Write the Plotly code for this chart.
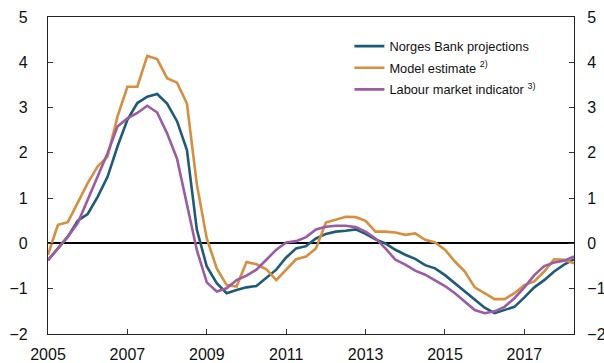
import plotly.graph_objects as go

# Quarterly observations, 2005 Q1 onwards
start_year = 2005
n_quarters = 54
quarters = [start_year + 0.25 * k for k in range(n_quarters)]

norges_bank = [
    -0.37, -0.12, 0.15, 0.50, 0.65, 1.03, 1.47, 2.14, 2.73, 3.10,
    3.24, 3.30, 3.09, 2.70, 2.06, 0.30, -0.51, -0.88, -1.10, -1.03,
    -0.97, -0.94, -0.77, -0.58, -0.31, -0.11, -0.06, 0.11, 0.21, 0.26,
    0.28, 0.31, 0.21, 0.09, 0.00, -0.14, -0.25, -0.34, -0.48, -0.55,
    -0.70, -0.88, -1.06, -1.25, -1.42, -1.54, -1.47, -1.40, -1.19, -0.97,
    -0.81, -0.62, -0.47, -0.35,
]
model_estimate = [
    -0.25, 0.41, 0.47, 0.89, 1.33, 1.70, 1.92, 2.80, 3.46, 3.46,
    4.14, 4.07, 3.65, 3.55, 3.09, 1.30, 0.11, -0.55, -0.92, -0.95,
    -0.41, -0.46, -0.57, -0.81, -0.58, -0.35, -0.29, -0.11, 0.46, 0.53,
    0.59, 0.58, 0.50, 0.26, 0.26, 0.24, 0.19, 0.22, 0.08, 0.02,
    -0.14, -0.40, -0.62, -0.97, -1.10, -1.23, -1.23, -1.10, -0.92, -0.84,
    -0.62, -0.35, -0.36, -0.44,
]
labour_market = [
    -0.37, -0.12, 0.15, 0.45, 0.96, 1.47, 1.99, 2.58, 2.76, 2.88,
    3.04, 2.89, 2.43, 1.87, 0.85, -0.15, -0.86, -1.06, -0.99, -0.81,
    -0.71, -0.58, -0.36, -0.14, 0.02, 0.05, 0.14, 0.31, 0.37, 0.39,
    0.39, 0.36, 0.26, 0.11, -0.11, -0.36, -0.47, -0.60, -0.69, -0.81,
    -0.94, -1.10, -1.28, -1.47, -1.54, -1.50, -1.40, -1.21, -0.97, -0.70,
    -0.50, -0.42, -0.38, -0.29,
]

series_names = [
    "Norges Bank projections",
    "Model estimate <sup>2)</sup>",
    "Labour market indicator <sup>3)</sup>",
]
year_ticks = [2005, 2007, 2009, 2011, 2013, 2015, 2017]
y_ticks = [-2, -1, 0, 1, 2, 3, 4, 5]

colors = ["#1d5b7a", "#d98e3d", "#9c5ba5"]
FONT = "Liberation Sans, Arial, sans-serif"

fig = go.Figure()
for i, (name, values, color) in enumerate(
        zip(series_names, [norges_bank, model_estimate, labour_market], colors)):
    fig.add_trace(go.Scatter(
        x=quarters, y=values, name=name, mode="lines", legendgroup=f"g{i}",
        line=dict(color=color, width=2.6),
    ))

# Invisible trace to carry the right-hand axis
fig.add_trace(go.Scatter(x=[quarters[0]], y=[0], yaxis="y2", showlegend=False,
                         mode="markers", marker=dict(opacity=0), hoverinfo="skip"))

axis_common = dict(
    range=[-2, 5], tickvals=y_ticks, ticks="inside", ticklen=5,
    tickcolor="#333", showgrid=False, showline=True, linecolor="#222",
    linewidth=1.3, tickfont=dict(size=16, color="#111", family=FONT),
    automargin=False,
)

fig.update_layout(
    width=604, height=363,
    margin=dict(l=48, r=30, t=17, b=29),
    paper_bgcolor="white", plot_bgcolor="white",
    font=dict(family=FONT, size=14, color="#111"),
    showlegend=True,
    legend=dict(
        x=0.573, y=0.955, xanchor="left", yanchor="top",
        bgcolor="rgba(0,0,0,0)", font=dict(size=12.8, family=FONT, color="#111"),
        tracegroupgap=2, itemwidth=30,
    ),
    xaxis=dict(
        range=[2005, 2018.25], tickvals=year_ticks, ticks="inside", ticklen=5,
        tickcolor="#333", showgrid=False, showline=True, linecolor="#222",
        linewidth=1.3, mirror=True, zeroline=False, automargin=False,
        ticklabelstandoff=6,
        tickfont=dict(size=16, color="#111", family=FONT),
    ),
    yaxis=dict(
        **axis_common, zeroline=True, zerolinecolor="#000", zerolinewidth=1.5,
        ticklabelstandoff=16,
    ),
    yaxis2=dict(
        **axis_common, overlaying="y", side="right", zeroline=False,
        ticklabelstandoff=9,
    ),
)

fig.write_html("out.html")
